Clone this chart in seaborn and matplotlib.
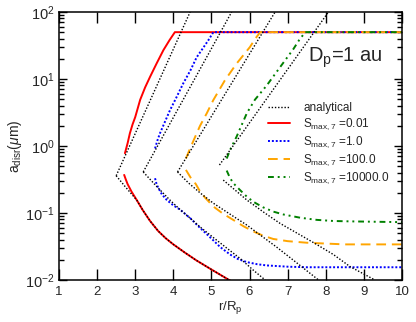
import numpy as np
import pandas as pd
import matplotlib
matplotlib.use('Agg')
import matplotlib.pyplot as plt
import seaborn as sns

# analytical curves (rising and falling branch per case)
ana1_up_r = [2.50, 4.44]
ana1_up_a = [0.36, 100]
ana1_dn_r = [2.50, 2.73, 3.04, 3.20, 3.39, 3.60, 3.80, 4.00, 4.30, 4.60, 4.96, 5.25, 5.49]
ana1_dn_a = [0.36, 0.25, 0.156, 0.11, 0.076, 0.054, 0.042, 0.034, 0.0257, 0.0197, 0.0148, 0.0118, 0.0098]

ana2_up_r = [3.21, 5.53]
ana2_up_a = [0.41, 100]
ana2_dn_r = [3.21, 3.56, 3.91, 4.18, 4.45, 4.70, 5.05, 5.40, 5.75, 6.10, 6.41]
ana2_dn_a = [0.41, 0.25, 0.156, 0.112, 0.083, 0.062, 0.043, 0.030, 0.021, 0.014, 0.01]

ana3_up_r = [4.11, 6.67]
ana3_up_a = [0.41, 100]
ana3_dn_r = [4.11, 4.40, 4.70, 5.05, 5.50, 5.93, 6.30, 6.71, 7.24, 7.81]
ana3_dn_a = [0.41, 0.28, 0.20, 0.14, 0.095, 0.066, 0.046, 0.031, 0.018, 0.01]

ana4_up_r = [5.21, 8.07]
ana4_up_a = [0.52, 100]
ana4_dn_r = [5.31, 5.93, 6.40, 6.80, 7.33, 7.72, 8.20, 8.64, 9.29]
ana4_dn_a = [0.31, 0.156, 0.10, 0.070, 0.047, 0.035, 0.024, 0.0158, 0.01]

# simulations, S_max,7 = 0.01, 1, 100, 10000
s001_up_r = [2.73, 2.80, 2.86, 2.93, 3.00, 3.13, 3.26, 3.39, 3.56, 3.74, 3.90, 4.04, 10]
s001_up_a = [0.78, 1.1, 1.55, 2.1, 2.7, 4.9, 7.5, 10.8, 17, 27, 38, 50, 50]
s001_dn_r = [2.71, 2.75, 2.80, 2.90, 3.04, 3.20, 3.39, 3.60, 3.80, 4.00, 4.30, 4.60, 4.96, 5.25, 5.49]
s001_dn_a = [0.37, 0.32, 0.27, 0.21, 0.156, 0.11, 0.076, 0.054, 0.042, 0.034, 0.0257, 0.0197, 0.0148,
             0.0118, 0.0098]

s1_up_r = [3.52, 3.58, 3.65, 3.78, 3.91, 4.08, 4.26, 4.45, 4.61, 4.78, 4.92, 5.05, 10]
s1_up_a = [0.92, 1.2, 1.55, 2.3, 3.4, 5.3, 8.6, 13.5, 21, 29, 38, 50, 50]
s1_dn_r = [3.52, 3.56, 3.61, 3.70, 3.83, 4.00, 4.18, 4.45, 4.70, 4.90, 5.05, 5.23, 5.49, 5.70,
           5.93, 6.20, 6.45, 7.00, 7.50, 10]
s1_dn_a = [0.33, 0.27, 0.234, 0.19, 0.156, 0.13, 0.112, 0.083, 0.060, 0.047, 0.039, 0.031, 0.024,
           0.0205, 0.0185, 0.0172, 0.0165, 0.0158, 0.0155, 0.0155]

s100_up_r = [4.33, 4.45, 4.58, 4.70, 4.88, 5.05, 5.35, 5.66, 6.01, 6.15, 6.28, 10]
s100_up_a = [0.65, 0.95, 1.4, 2.0, 3.1, 4.86, 9.5, 17, 30, 40, 50, 50]
s100_dn_r = [4.33, 4.45, 4.59, 4.70, 4.83, 5.05, 5.30, 5.57, 5.85, 6.10, 6.35, 6.62, 7.00, 7.50, 8.50, 10]
s100_dn_a = [0.44, 0.34, 0.27, 0.21, 0.17, 0.125, 0.098, 0.079, 0.063, 0.053, 0.046, 0.041, 0.038,
             0.036, 0.034, 0.034]

s1e4_up_r = [5.40, 5.50, 5.66, 5.80, 5.93, 6.14, 6.45, 6.80, 7.15, 7.30, 7.46, 10]
s1e4_up_a = [0.65, 0.9, 1.38, 2.1, 3.1, 4.9, 8.0, 15, 28, 38, 50, 50]
s1e4_dn_r = [5.40, 5.48, 5.57, 5.75, 5.93, 6.10, 6.35, 6.62, 6.89, 7.33, 7.76, 8.20, 8.64, 10]
s1e4_dn_a = [0.43, 0.34, 0.28, 0.22, 0.175, 0.147, 0.122, 0.105, 0.095, 0.085, 0.079, 0.076, 0.075, 0.073]

sns.set_style('ticks')
plt.rcParams['font.family'] = ['Liberation Sans', 'DejaVu Sans']
plt.rcParams['mathtext.fontset'] = 'custom'
plt.rcParams['mathtext.rm'] = 'Liberation Sans'
plt.rcParams['mathtext.it'] = 'Liberation Sans:italic'
plt.rcParams['mathtext.bf'] = 'Liberation Sans:bold'

fig = plt.figure(figsize=(4.16, 3.22), dpi=100)
ax = fig.add_axes([59 / 416, 1 - 280 / 322, 343 / 416, 268 / 322])


def draw(r, a, label=None, **kw):
    df = pd.DataFrame({'r': r, 'a': a})
    sns.lineplot(data=df, x='r', y='a', sort=False, estimator=None, ax=ax,
                 label=label, legend=False, **kw)


sims = [
    (s001_up_r, s001_up_a, s001_dn_r, s001_dn_a, 'red', '-', r'S$_{\mathrm{max,7}}$ =0.01'),
    (s1_up_r, s1_up_a, s1_dn_r, s1_dn_a, 'blue', (0, (1, 1)), r'S$_{\mathrm{max,7}}$ =1.0'),
    (s100_up_r, s100_up_a, s100_dn_r, s100_dn_a, 'orange', (0, (5, 3)), r'S$_{\mathrm{max,7}}$ =100.0'),
    (s1e4_up_r, s1e4_up_a, s1e4_dn_r, s1e4_dn_a, 'green', (0, (3, 2, 1, 2, 1, 2)),
     r'S$_{\mathrm{max,7}}$ =10000.0'),
]
for ur, ua, dr, da, col, ls, lab in sims:
    draw(ur, ua, label=lab, color=col, linestyle=ls, linewidth=1.4)
    draw(dr, da, color=col, linestyle=ls, linewidth=1.4)

anas = [(ana1_up_r, ana1_up_a, ana1_dn_r, ana1_dn_a),
        (ana2_up_r, ana2_up_a, ana2_dn_r, ana2_dn_a),
        (ana3_up_r, ana3_up_a, ana3_dn_r, ana3_dn_a),
        (ana4_up_r, ana4_up_a, ana4_dn_r, ana4_dn_a)]
for i, (ur, ua, dr, da) in enumerate(anas):
    draw(ur, ua, label='analytical' if i == 0 else None, color='black',
         linestyle=(0, (1, 1.3)), linewidth=1.0, zorder=3)
    draw(dr, da, color='black', linestyle=(0, (1, 1.3)), linewidth=1.0, zorder=3)

ax.set_yscale('log')
ax.set_xlim(1, 10)
ax.set_ylim(0.01, 100)
ax.set_xticks(range(1, 11))
ax.set_xlabel(r'r/R$_{\mathrm{p}}$', fontsize=9.5, labelpad=1)
ax.set_ylabel(r'a$_{\mathrm{disr}}$($\mu$m)', fontsize=10, labelpad=1)
for s in ax.spines.values():
    s.set_visible(True)
    s.set_linewidth(1.1)
    s.set_color('black')
ax.tick_params(which='both', direction='in', top=True, right=True, width=1.0, color='black')
ax.tick_params(axis='x', which='major', length=8, pad=4, labelsize=9.5)
ax.tick_params(axis='y', which='major', length=6, pad=3, labelsize=10.5)
ax.tick_params(axis='y', which='minor', length=3.5)
ax.tick_params(axis='x', which='minor', bottom=False, top=False)

ax.text((308 - 59) / 343, 1 - (58 - 12) / 268, r'D$_{\mathrm{p}}$=1 au', transform=ax.transAxes,
        fontsize=14.5, ha='left', va='center')

h, l = ax.get_legend_handles_labels()
order = [l.index('analytical')] + [i for i in range(len(l)) if l[i] != 'analytical']
ax.legend([h[i] for i in order], [l[i] for i in order], loc='upper left',
          bbox_to_anchor=((268 - 59) / 343, 1 - (102 - 12) / 268), frameon=False,
          fontsize=8.5, handlelength=1.9, handletextpad=1.1, labelspacing=0.2, borderpad=0,
          borderaxespad=0)

fig.savefig('out.png', dpi=100)
